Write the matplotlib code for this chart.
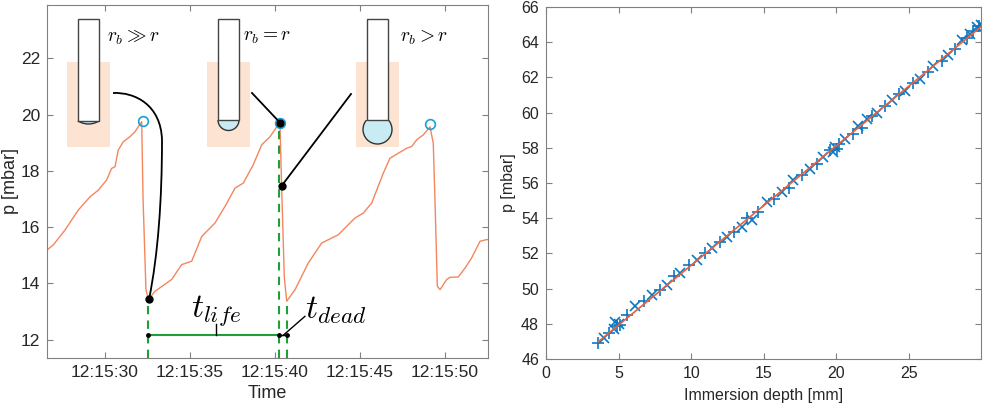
import numpy as np
import matplotlib
matplotlib.use('Agg')
import matplotlib.pyplot as plt
from matplotlib.patches import Rectangle, Circle, PathPatch
from matplotlib.path import Path
from matplotlib.ticker import FuncFormatter

plt.rcParams['font.family'] = ['Liberation Sans', 'DejaVu Sans']
plt.rcParams['mathtext.fontset'] = 'cm'

# ---- left panel: pressure trace (seconds after 12:15:00) ----
t_trace = [26.59, 26.96, 27.65, 28.43, 29.12, 29.61, 30.10, 30.39, 30.59, 30.78, 31.08, 31.47,
           31.76, 32.16, 32.24, 32.41, 32.56, 32.94, 33.92, 34.51, 35.10, 35.69, 36.47, 37.06,
           37.65, 38.14, 38.72, 39.22, 39.71, 40.19, 40.29, 40.39, 40.55, 40.69, 41.18, 41.96,
           42.75, 43.72, 44.71, 45.19, 45.69, 46.37, 46.76, 47.25, 47.75, 48.04, 48.34, 48.72,
           49.12, 49.31, 49.41, 49.55, 49.71, 50.10, 50.29, 50.78, 51.18, 51.57, 52.06, 52.45, 52.6]
p_trace = [15.19, 15.37, 15.90, 16.61, 17.08, 17.32, 17.68, 18.09, 18.15, 18.74, 19.04, 19.22,
           19.39, 19.75, 17.00, 13.78, 13.43, 13.72, 14.14, 14.67, 14.79, 15.67, 16.15, 16.74,
           17.39, 17.57, 18.22, 18.93, 19.22, 19.64, 19.75, 17.47, 14.20, 13.37, 13.78, 14.73,
           15.44, 15.73, 16.33, 16.50, 16.86, 17.92, 18.45, 18.63, 18.81, 18.87, 19.11, 19.28,
           19.57, 18.99, 16.98, 13.90, 13.78, 14.14, 14.22, 14.23, 14.55, 14.91, 15.50, 15.56, 15.56]

peak_t = [32.22, 40.29, 49.12]
peak_p = [19.79, 19.72, 19.66]

# points marked on the trace: bubble states
state_t = [32.59, 40.29, 40.39]
state_p = [13.43, 19.72, 17.47]

t_life_start = 32.55
t_life_end = 40.25
t_dead_end = 40.69
p_life_end = 19.72
p_dead_end = 13.37
p_bar = 12.15

# ---- right panel: calibration ----
depth_plus = [3.58, 4.31, 4.89, 5.11, 5.57, 6.72, 7.87, 8.78, 9.82, 10.96, 11.99, 12.91,
              13.83, 14.63, 15.67, 16.70, 17.61, 18.65, 19.56, 20.02, 20.14, 21.17, 21.74,
              22.43, 23.35, 24.27, 25.30, 26.33, 27.25, 28.17, 28.97, 29.43, 29.84]
p_plus = [46.9, 47.5, 47.9, 47.95, 48.5, 49.3, 49.9, 50.7, 51.35, 52.0, 52.65, 53.2,
          54.0, 54.35, 55.1, 55.7, 56.45, 57.1, 57.85, 57.95, 58.2, 58.8, 59.1,
          59.8, 60.4, 61.05, 61.7, 62.3, 62.95, 63.6, 64.25, 64.65, 64.9]
depth_x = [3.97, 4.66, 4.77, 5.00, 6.15, 7.29, 8.33, 9.24, 10.39, 11.42, 12.45, 13.49,
           14.17, 15.21, 16.24, 17.04, 18.19, 19.10, 19.79, 19.91, 20.60, 21.51, 22.09,
           22.78, 23.81, 24.72, 25.76, 26.67, 27.71, 28.62, 29.20, 29.66, 29.95]
p_x = [47.2, 47.7, 48.1, 48.0, 49.0, 49.65, 50.2, 50.9, 51.6, 52.3, 52.95, 53.5,
       53.9, 54.9, 55.5, 56.15, 56.8, 57.5, 57.75, 58.05, 58.5, 59.25, 59.65,
       60.0, 60.7, 61.25, 61.9, 62.65, 63.3, 64.1, 64.45, 64.85, 64.95]
fit_depth = [3.6, 29.95]
fit_p = [46.98, 64.88]

TRACE = '#F4865E'
CIRC = '#1A9FDA'
GREEN = '#1F9E3A'
PEACH = '#FDE4D2'
BUBBLE = '#C9ECF4'
BLUE = '#0A78C4'
FIT = '#EE5E3A'
AXC = '#808080'
TXT = '#262626'

W, H = 989, 407
fig = plt.figure(figsize=(W / 100, H / 100), dpi=100)


def style(ax, size):
    for s in ax.spines.values():
        s.set_color(AXC)
        s.set_linewidth(0.8)
    ax.tick_params(direction='in', top=True, right=True, color=AXC,
                   labelcolor=TXT, labelsize=size, length=4, width=0.8, pad=5)


ax1 = fig.add_axes([47 / W, 1 - 358 / H, 441 / W, 353 / H])
ax1.plot(t_trace, p_trace, color=TRACE, lw=1.0, zorder=2)
ax1.plot(peak_t, peak_p, 'o', mfc='none', mec=CIRC, ms=7, mew=1.2, zorder=3)

ymin = 11.35
ax1.plot([t_life_start, t_life_start], [ymin, state_p[0]], color=GREEN, lw=1.5, ls=(0, (4, 3)), zorder=3)
ax1.plot([t_life_end, t_life_end], [ymin, p_life_end], color=GREEN, lw=1.5, ls=(0, (4, 3)), zorder=3)
ax1.plot([t_dead_end, t_dead_end], [ymin, p_dead_end], color=GREEN, lw=1.5, ls=(0, (4, 3)), zorder=3)
ax1.plot([t_life_start, t_life_end], [p_bar, p_bar], color=GREEN, lw=1.5, zorder=4)
ax1.plot([t_life_end, t_dead_end], [p_bar, p_bar], color='black', lw=1.0, zorder=4)
ax1.plot([t_life_start, t_life_end, t_dead_end], [p_bar] * 3, 'o', color='black', ms=2.5, zorder=5)
ax1.plot(state_t, state_p, 'o', color='black', ms=5, zorder=6)

# t_life / t_dead labels
t_mid = 36.53
ax1.plot([t_mid, t_mid], [p_bar, 12.57], color='black', lw=1.0, zorder=4)
ax1.text(t_mid, 13.05, r'$t_{life}$', fontsize=24, ha='center', va='center')
ax1.plot([40.47, 41.76], [p_bar, 12.83], color='black', lw=1.0, zorder=4)
ax1.text(43.6, 13.05, r'$t_{dead}$', fontsize=24, ha='center', va='center')

ax1.set_xlim(26.59, 52.53)
ax1.set_ylim(ymin, 23.9)
ax1.set_xticks([30, 35, 40, 45, 50])
ax1.xaxis.set_major_formatter(FuncFormatter(lambda v, pos: '12:15:%02d' % round(v)))
ax1.set_yticks([12, 14, 16, 18, 20, 22])
ax1.set_xlabel('Time', fontsize=13, color=TXT, labelpad=4)
ax1.set_ylabel('p [mbar]', fontsize=13, color=TXT, labelpad=1)
style(ax1, 12.5)

ax2 = fig.add_axes([546 / W, 1 - 359 / H, 435 / W, 352 / H])
ax2.plot(fit_depth, fit_p, color=FIT, lw=1.2, zorder=3)
ax2.plot(depth_plus, p_plus, '+', color=BLUE, ms=9, mew=1.2, zorder=2)
ax2.plot(depth_x, p_x, 'x', color=BLUE, ms=7.5, mew=1.2, zorder=2)
ax2.set_xlim(0, 29.95)
ax2.set_ylim(46, 66)
ax2.set_xticks([0, 5, 10, 15, 20, 25])
ax2.set_yticks(np.arange(46, 67, 2))
ax2.set_xlabel('Immersion depth [mm]', fontsize=11.5, color=TXT, labelpad=5)
ax2.set_ylabel('p [mbar]', fontsize=11.5, color=TXT, labelpad=4)
style(ax2, 11.5)

# ---- overlay in pixel coordinates for the capillary sketches ----
ov = fig.add_axes([0, 0, 1, 1], zorder=10)
ov.set_xlim(0, W)
ov.set_ylim(H, 0)
ov.axis('off')
ov.patch.set_alpha(0)


def to_px(t, p):
    d = ax1.transData.transform((t, p))
    return d[0], H - d[1]


sketches = [
    # rect x0, x1, tube x0, x1, tube bottom, bubble centre y, bubble radius, label x, label
    (67, 110, 78, 99, 121, 104.1, 19.9, 107, r'$r_b \gg r$'),
    (207, 250, 218, 239, 120, 120.0, 10.5, 243, r'$r_b = r$'),
    (356, 399, 367, 388, 120, 129.5, 14.5, 400, r'$r_b > r$'),
]
for rx0, rx1, tx0, tx1, tb, cy, rad, lx, lab in sketches:
    ov.add_patch(Rectangle((rx0, 62), rx1 - rx0, 85, facecolor=PEACH, edgecolor='none'))
    cx = (tx0 + tx1) / 2
    clip = Rectangle((0, tb), W, 60, transform=ov.transData)
    b = Circle((cx, cy), rad, facecolor=BUBBLE, edgecolor='#333333', lw=1.0)
    ov.add_patch(b)
    b.set_clip_path(clip)
    ov.add_patch(Rectangle((tx0, 19), tx1 - tx0, tb - 19, facecolor='white',
                           edgecolor='#444444', lw=1.0))
    ov.text(lx, 38, lab, fontsize=14, ha='left', va='center')

# connectors from sketches to the trace
x0, y0 = to_px(state_t[0], state_p[0])
verts = [(113, 93), (135, 92), (161, 105), (162, 140),
         (162, 200), (158, 255), (x0, y0)]
codes = [Path.MOVETO, Path.CURVE4, Path.CURVE4, Path.CURVE4,
         Path.CURVE4, Path.CURVE4, Path.CURVE4]
ov.add_patch(PathPatch(Path(verts, codes), facecolor='none', edgecolor='black', lw=1.3))
x1, y1 = to_px(state_t[1], state_p[1])
ov.plot([252, x1], [93, y1], color='black', lw=1.3)
x2, y2 = to_px(state_t[2], state_p[2])
ov.plot([351, x2], [94, y2], color='black', lw=1.3)

fig.savefig('out.png', dpi=100)
